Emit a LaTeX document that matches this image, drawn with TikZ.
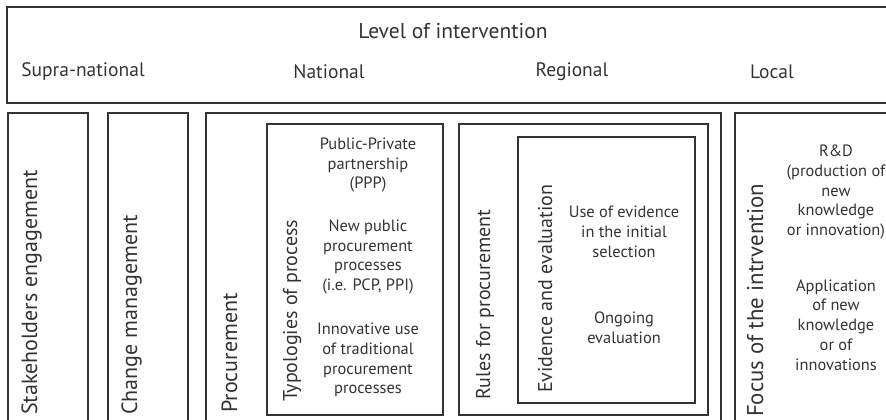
\documentclass[tikz,border=0pt]{standalone}
\usepackage{fontspec}
\setmainfont{PT Sans}
\begin{document}
\definecolor{linec}{HTML}{333333}
\definecolor{textc}{HTML}{333333}
\begin{tikzpicture}[x=1pt,y=-1pt,
  frame/.style={draw=linec, line width=1.7pt, inner sep=0pt, anchor=north west},
  head/.style={text=textc, font=\fontsize{21.5}{24}\selectfont, inner sep=0pt},
  level/.style={text=textc, font=\fontsize{19.5}{21}\selectfont, inner sep=0pt},
  biglab/.style={text=textc, font=\fontsize{22}{24}\selectfont, rotate=90, anchor=base west, inner sep=0pt},
  midlab/.style={text=textc, font=\fontsize{20}{22}\selectfont, rotate=90, anchor=base west, inner sep=0pt},
  item/.style={text=textc, font=\fontsize{16.4}{19.8}\selectfont, align=center, inner sep=0pt}]
\useasboundingbox (0,0) rectangle (886,420);
\clip (0,0) rectangle (886,420);

% top band: level of intervention
\node[frame, minimum width=900pt, minimum height=96pt] (top) at (6,6) {};
\node[head] (levtitle) at (453,31) {Level of intervention};
\node[level] (supra) at (83,72) {Supra-national};
\node[level] (nat) at (329,72) {National};
\node[level] (reg) at (572,72) {Regional};
\node[level] (loc) at (772,72) {Local};

% column frames
\node[frame, minimum width=80pt, minimum height=340pt] (stake) at (7,112) {};
\node[frame, minimum width=80pt, minimum height=340pt] (change) at (107,112) {};
\node[frame, minimum width=515pt, minimum height=340pt] (proc) at (205,112) {};
\node[frame, minimum width=176pt, minimum height=291pt] (typo) at (266,123) {};
\node[frame, minimum width=249pt, minimum height=291pt] (rules) at (458,123) {};
\node[frame, minimum width=177pt, minimum height=266pt] (evid) at (517,136) {};
\node[frame, minimum width=200pt, minimum height=340pt] (focus) at (734,112) {};

% rotated labels
\node[biglab] (stakelab) at (37,415) {Stakeholders engagement};
\node[biglab] (changelab) at (137,415) {Change management};
\node[biglab] (proclab) at (237,413) {Procurement};
\node[midlab] (typolab) at (297,402) {Typologies of process};
\node[midlab] (ruleslab) at (490,400) {Rules for procurement};
\node[midlab] (evidlab) at (552,393) {Evidence and evaluation};
\node[biglab, font=\fontsize{22.8}{24}\selectfont] (focuslab) at (763,417) {Focus of the intrvention};

% typologies of process
\node[item] (ppp) at (368,165) {Public-Private\\partnership\\(PPP)};
\node[item] (pcp) at (368,257) {New public\\procurement\\processes\\(i.e. PCP, PPI)};
\node[item] (trad) at (368,360) {Innovative use\\of traditional\\procurement\\processes};

% evidence and evaluation
\node[item] (initial) at (624,232) {Use of evidence\\in the initial\\selection};
\node[item] (ongoing) at (624,328) {Ongoing\\evaluation};

% focus of the intervention
\node[item] (rnd) at (836,192) {R\&D\\(production of\\new\\knowledge\\or innovation)};
\node[item] (appl) at (836,325) {Application\\of new\\knowledge\\or of\\innovations};
\end{tikzpicture}
\end{document}
